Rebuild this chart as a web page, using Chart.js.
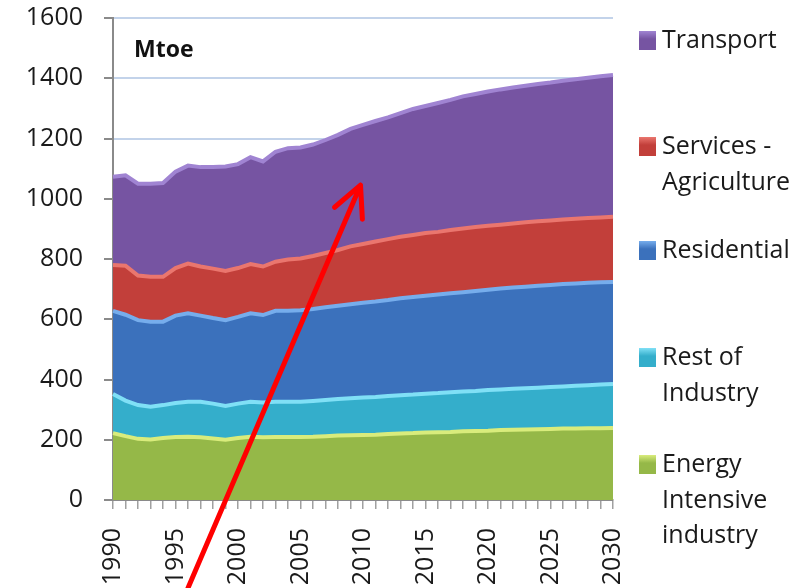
<!DOCTYPE html>
<html><head><meta charset="utf-8">
<script src="https://cdn.jsdelivr.net/npm/chart.js@4.4.1/dist/chart.umd.min.js"></script>
<style>html,body{margin:0;padding:0;background:#fff;}#c{display:block}</style>
</head><body>
<canvas id="c" width="809" height="588"></canvas>
<script>
const years = ['1990','1991','1992','1993','1994','1995','1996','1997','1998','1999','2000','2001','2002','2003','2004','2005','2006','2007','2008','2009','2010','2011','2012','2013','2014','2015','2016','2017','2018','2019','2020','2021','2022','2023','2024','2025','2026','2027','2028','2029','2030'];
const yearLabelsShown = ['1990','1995','2000','2005','2010','2015','2020','2025','2030'];
const yTicks = [0,200,400,600,800,1000,1200,1400,1600];

const energyIntensive = [222,212,203,201,206,209,210,208,204,200,206,210,208,209,209,209,210,212,214,215,216,217,219,221,222,224,225,226,228,229,230,232,233,234,235,236,237,237,238,238,239];
const restOfIndustry = [130,118,112,109,109,113,116,118,116,112,114,116,116,117,117,117,119,120,121,123,124,125,126,127,128,129,130,132,132,133,135,135,136,137,138,139,140,142,143,145,146];
const residential = [276,285,282,282,277,290,294,286,284,285,288,294,290,302,302,304,305,308,310,312,315,317,319,322,324,325,327,328,330,332,333,335,336,337,338,339,340,340,340,340,339];
const servicesAgriculture = [152,163,148,149,149,158,165,163,164,163,162,163,161,163,170,172,176,180,185,192,195,199,202,204,206,208,208,210,211,212,212,212,213,214,214,214,214,215,215,215,216];
const transport = [293,300,305,309,311,320,325,330,337,347,345,355,349,365,370,368,370,375,382,390,395,400,404,410,418,422,428,432,439,442,446,449,451,453,456,458,461,463,466,469,471];

const seriesNames = ['Energy Intensive industry','Rest of Industry','Residential','Services - Agriculture','Transport'];
const legendLines = [['Energy','Intensive','industry'],['Rest of','Industry'],['Residential'],['Services -','Agriculture'],['Transport']];
const unitLabel = 'Mtoe';
// annotation arrow (category index, value)
const arrowTail = {index: 6.0, value: -292};
const arrowTip = {index: 19.8, value: 1045};

const fills = ['#95b848','#34aecb','#3b71bc','#c23f3a','#7654a2'];
const highlights = ['#d9ec7c','#80e0f6','#76adec','#ea766e','#a084d2'];
const seriesData = [energyIntensive, restOfIndustry, residential, servicesAgriculture, transport];

const FONT = "'Open Sans', 'Liberation Sans', sans-serif";

const overlayPlugin = {
  id: 'overlay',
  afterDraw(chart) {
    const ctx = chart.ctx;
    const ca = chart.chartArea;
    const xs = chart.scales.x, ys = chart.scales.y;
    ctx.save();
    // unit label
    ctx.font = "bold 23px " + FONT;
    ctx.fillStyle = '#111';
    ctx.textBaseline = 'middle';
    ctx.textAlign = 'left';
    ctx.fillText(unitLabel, ca.left + 21, ca.top + 32);
    // legend
    const legendX = ca.right + 26;
    const firstLineY = [465, 358, 251, 147, 41];
    const lineH = 35.5;
    ctx.font = "25px " + FONT;
    for (let i = chart.data.datasets.length - 1; i >= 0; i--) {
      const y0 = firstLineY[i];
      const g = ctx.createLinearGradient(0, y0 - 10, 0, y0 + 10);
      g.addColorStop(0, highlights[i]);
      g.addColorStop(0.4, fills[i]);
      g.addColorStop(1, fills[i]);
      ctx.fillStyle = g;
      ctx.fillRect(legendX, y0 - 10, 17, 19);
      ctx.fillStyle = '#1a1a1a';
      legendLines[i].forEach((t, k) => ctx.fillText(t, legendX + 23, y0 + k * lineH));
    }
    // red arrow
    const tx = xs.getPixelForValue(arrowTail.index), ty = ys.getPixelForValue(arrowTail.value);
    const hx = xs.getPixelForValue(arrowTip.index), hy = ys.getPixelForValue(arrowTip.value);
    ctx.strokeStyle = '#ff0000';
    ctx.lineWidth = 5;
    ctx.lineCap = 'round';
    ctx.lineJoin = 'round';
    ctx.beginPath();
    ctx.moveTo(tx, ty); ctx.lineTo(hx, hy);
    const ang = Math.atan2(ty - hy, tx - hx);
    const L = 34, spread = 0.46;
    ctx.moveTo(hx + L * Math.cos(ang + spread), hy + L * Math.sin(ang + spread));
    ctx.lineTo(hx, hy);
    ctx.lineTo(hx + L * Math.cos(ang - spread), hy + L * Math.sin(ang - spread));
    ctx.stroke();
    ctx.restore();
  }
};

new Chart(document.getElementById('c'), {
  type: 'line',
  data: {
    labels: years,
    datasets: seriesData.map((d, i) => ({
      label: seriesNames[i],
      data: d,
      backgroundColor: fills[i],
      borderColor: highlights[i],
      borderWidth: 4,
      pointRadius: 0,
      tension: 0,
      fill: i === 0 ? 'origin' : '-1'
    }))
  },
  options: {
    responsive: false,
    animation: false,
    devicePixelRatio: 1,
    layout: { padding: { top: 18, right: 196, left: 0, bottom: 0 } },
    plugins: { legend: { display: false }, tooltip: { enabled: false } },
    scales: {
      x: {
        type: 'category',
        offset: false,
        border: { color: '#8a8a8a', width: 2 },
        grid: { drawOnChartArea: false, tickLength: 9, tickColor: '#a0a0a0', lineWidth: 1.5 },
        ticks: {
          autoSkip: false, minRotation: 90, maxRotation: 90, padding: 19,
          color: '#1a1a1a', font: { family: FONT, size: 25 },
          callback: (v, i) => yearLabelsShown.includes(years[i]) ? years[i] : ''
        },
        afterFit: s => { s.height = 88; }
      },
      y: {
        stacked: true,
        min: yTicks[0], max: yTicks[yTicks.length - 1],
        border: { color: '#8a8a8a', width: 2 },
        grid: { color: '#c3d3ea', lineWidth: 2, tickLength: 9, tickColor: '#8a8a8a' },
        ticks: { stepSize: 200, padding: 21, color: '#1a1a1a', font: { family: FONT, size: 25 },
          callback: v => String(v) },
        afterFit: s => { s.width = 113; s.paddingTop = 0; s.paddingBottom = 0; }
      }
    }
  },
  plugins: [overlayPlugin]
});
</script>
</body></html>
